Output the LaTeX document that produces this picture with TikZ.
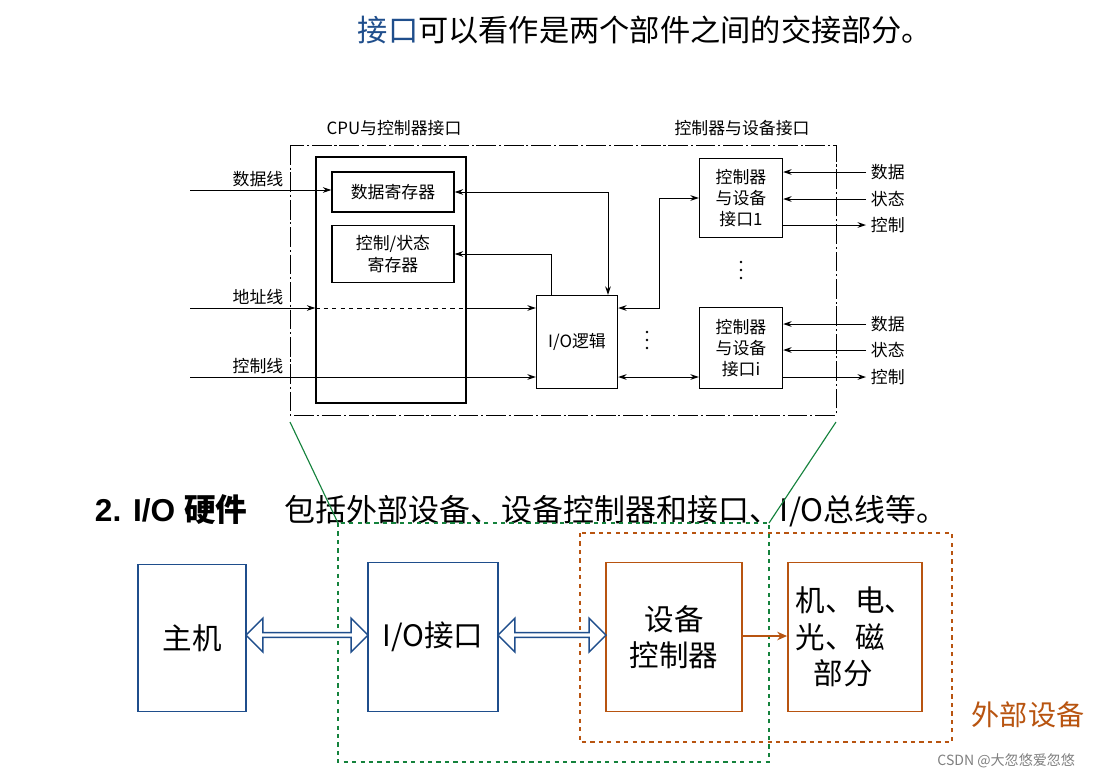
\documentclass[tikz,border=0pt]{standalone}
\usepackage{fontspec}
\setmainfont{Liberation Sans}
\newfontfamily\cjk{Noto Sans CJK SC}
\usetikzlibrary{shapes.arrows,arrows.meta}
\definecolor{slideblue}{RGB}{31,78,140}
\definecolor{devorange}{RGB}{184,84,16}
\definecolor{linkgreen}{RGB}{20,130,60}
\tikzset{
  box/.style={draw, line width=1pt, inner sep=0pt},
  sbox/.style={draw, line width=1.3pt, inner sep=0pt, font=\cjk\fontsize{21}{26}\selectfont, align=center},
  lbl/.style={font=\cjk\fontsize{12}{15}\selectfont, align=center},
  arr/.style={-{Stealth[length=6pt,width=4pt]}, line width=0.7pt},
  hollow/.style={double arrow, draw=slideblue, fill=white, line width=1pt,
    double arrow head extend=3pt, minimum width=24pt, inner sep=0pt}
}
\begin{document}
\begin{tikzpicture}[x=0.025cm, y=-0.025cm]
\useasboundingbox (0,0) rectangle (1096,779);
\fill[white] (0,0) rectangle (1096,779);

% title
\node[font=\cjk\fontsize{21.5}{26}\selectfont] (title) at (645,30) {\textcolor{slideblue}{接口}可以看作是两个部件之间的交接部分。};

% interface figure
\draw[line width=0.7pt, dash pattern=on 14pt off 2pt on 1.5pt off 2pt] (290,145) rectangle (836,415);
\node[lbl, anchor=base] (lcpu) at (394,134) {CPU与控制器接口};
\node[lbl, anchor=base] (ldev) at (742,134) {控制器与设备接口};
\node[box, minimum width=150*0.025cm, minimum height=246*0.025cm] (cpu) at (391,280) {};
\node[box, lbl, minimum width=122*0.025cm, minimum height=40*0.025cm] (dreg) at (393,192) {数据寄存器};
\node[box, lbl, minimum width=122*0.025cm, minimum height=57*0.025cm] (creg) at (393,254) {控制/状态\\寄存器};
\node[box, lbl, minimum width=81*0.025cm, minimum height=93*0.025cm] (io) at (577,342) {I/O逻辑};
\node[box, lbl, minimum width=83*0.025cm, minimum height=79*0.025cm] (dev1) at (741,198) {控制器\\与设备\\接口1};
\node[box, lbl, minimum width=83*0.025cm, minimum height=81*0.025cm] (devi) at (741,348) {控制器\\与设备\\接口i};
\foreach \y in {262,270,278} \fill (741,\y) circle (1pt);
\foreach \y in {332,340,348} \fill (647,\y) circle (1pt);

% buses on the left
\coordinate (db) at (190,190);
\coordinate (ab) at (190,308);
\coordinate (cb) at (190,377);
\node[lbl, anchor=south] (ldb) at (258,192) {数据线};
\node[lbl, anchor=south] (lab) at (258,310) {地址线};
\node[lbl, anchor=south] (lcb) at (258,379) {控制线};
\draw[arr] (db) -- (db -| dreg.west);
\draw[arr] (ab) -- (ab -| cpu.west);
\draw[line width=0.7pt, dashed] (ab -| cpu.west) -- (ab -| cpu.east);
\draw[arr] (ab -| cpu.east) -- (ab -| io.west);
\draw[arr] (cb) -- (cb -| io.west);

% registers to logic
\draw[arr, {Stealth[length=6pt,width=4pt]}-{Stealth[length=6pt,width=4pt]}] (dreg.east) -| (io.north -| 608,0);
\draw[arr] (io.north -| 551,0) |- (creg.east);

% logic to device interfaces
\draw[arr, {Stealth[length=6pt,width=4pt]}-{Stealth[length=6pt,width=4pt]}] (io.east |- 0,308) -| (659,198) -- (dev1.west);
\draw[arr, {Stealth[length=6pt,width=4pt]}-{Stealth[length=6pt,width=4pt]}] (io.east |- 0,377) -- (devi.west |- 0,377);

% device signals
\foreach \d/\y in {dev1/172, devi/324} {
  \node[lbl, anchor=west] (sd\d) at (866,\y) {数据};
  \draw[arr] (sd\d.west) -- (\d.east |- sd\d);
}
\foreach \d/\y in {dev1/199, devi/350} {
  \node[lbl, anchor=west] (ss\d) at (866,\y) {状态};
  \draw[arr] (ss\d.west) -- (\d.east |- ss\d);
}
\foreach \d/\y in {dev1/225, devi/377} {
  \node[lbl, anchor=west] (sc\d) at (866,\y) {控制};
  \draw[arr] (\d.east |- sc\d) -- (sc\d.west);
}

% hardware overview
\node[anchor=base west, font=\bfseries\fontsize{22.5}{26}\selectfont] (hw) at (90,521) {2. I/O {\cjk 硬件}};
\node[anchor=base west, font=\cjk\fontsize{22}{26}\selectfont] (hwtext) at (280,521) {包括外部设备、设备控制器和接口、I/O总线等。};

\draw[linkgreen, line width=1.2pt, dashed] (338,523) rectangle (769,762);
\draw[devorange, line width=1.2pt, dashed] (580,533) rectangle (952,742);
\draw[linkgreen, line width=0.8pt] (290,422) -- (338,523);
\draw[linkgreen, line width=0.8pt] (836,422) -- (769,523);

\node[sbox, draw=slideblue, minimum width=108*0.025cm, minimum height=147*0.025cm] (host) at (192,638) {主机};
\node[sbox, draw=slideblue, minimum width=130*0.025cm, minimum height=149*0.025cm] (iface) at (433,637) {I/O接口};
\node[sbox, draw=devorange, minimum width=136*0.025cm, minimum height=149*0.025cm] (ctrl) at (674,637) {设备\\控制器};
\node[sbox, draw=devorange, minimum width=134*0.025cm, minimum height=149*0.025cm, align=left] (parts) at (855,637) {机、电、\\光、磁\\\hspace*{0.6em}部分};

\node[hollow, minimum height=122*0.025cm] (h1) at (307,635) {};
\node[hollow, minimum height=108*0.025cm] (h2) at (552,635) {};
\draw[devorange, line width=1.2pt, -{Stealth[length=7pt,width=6pt]}] (ctrl.east |- 0,636) -- (parts.west |- 0,636);

\node[font=\cjk\fontsize{20}{24}\selectfont, text=devorange] (ext) at (1028,715) {外部设备};
\node[font=\cjk\fontsize{10}{12}\selectfont, text=gray, anchor=east] (wm) at (1080,761) {CSDN @大忽悠爱忽悠};
\end{tikzpicture}
\end{document}
